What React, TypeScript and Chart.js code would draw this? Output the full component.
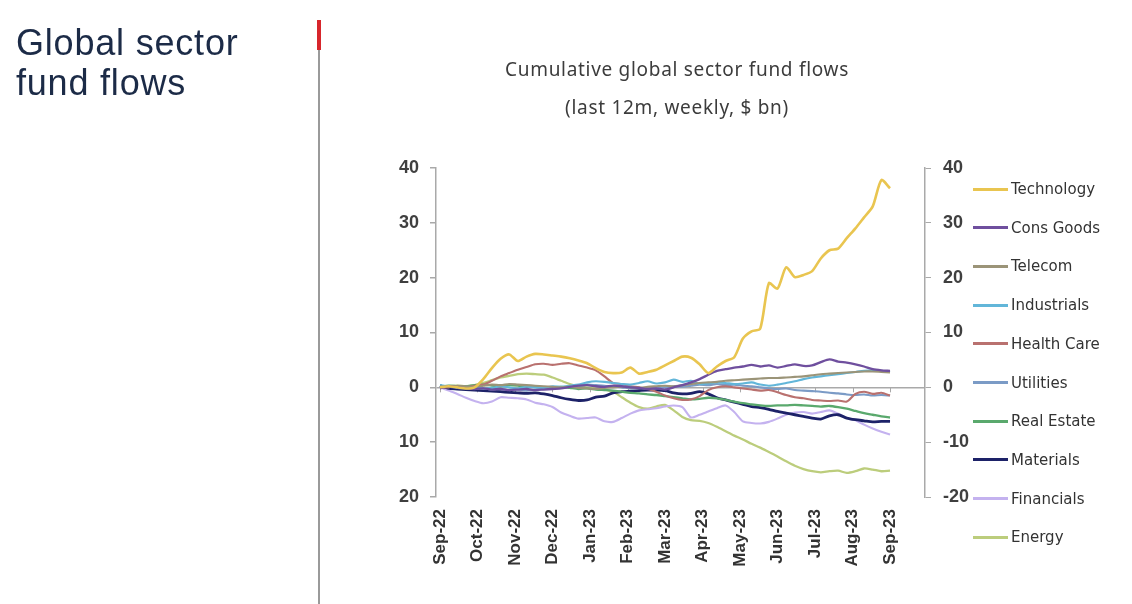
import React, { useEffect, useRef } from "react";
import { Chart, registerables } from "chart.js";

Chart.register(...registerables);

// ---------- DATA ----------
const monthLabels = [
  "Sep-22", "Oct-22", "Nov-22", "Dec-22", "Jan-23", "Feb-23", "Mar-23",
  "Apr-23", "May-23", "Jun-23", "Jul-23", "Aug-23", "Sep-23",
];
const weeksInYear = 52;
const yTicks = [40, 30, 20, 10, 0, -10, -20];

const seriesNames = [
  "Technology", "Cons Goods", "Telecom", "Industrials", "Health Care",
  "Utilities", "Real Estate", "Materials", "Financials", "Energy",
];
const seriesColors = [
  "#e9c550", "#6f4f9e", "#9b9478", "#62b6d9", "#b9716f",
  "#7b9bc6", "#5aa96d", "#1d2268", "#c4b2ef", "#bccd7c",
];
const seriesWidths = [2.6, 2.3, 2.1, 2.1, 2.1, 2.1, 2.3, 2.8, 2.1, 2.3];

const technology = [0, 0.2, 0, -0.2, 0, 1.5, 3.5, 5.2, 6.0, 4.8, 5.6, 6.1, 6.0, 5.8, 5.6, 5.3, 4.9, 4.4, 3.5, 2.8, 2.6, 2.7, 3.6, 2.5, 2.8, 3.2, 4.0, 4.8, 5.6, 5.4, 4.2, 2.6, 3.8, 4.8, 5.5, 8.9, 10.2, 10.7, 19.0, 18.0, 21.9, 20.1, 20.5, 21.2, 23.5, 25.0, 25.3, 27.2, 29.0, 31.0, 33.0, 37.8, 36.3];
const consGoods = [-0.2, 0.2, 0, -0.2, -0.3, -0.2, -0.4, -0.3, -0.5, -0.4, -0.3, -0.5, -0.4, -0.3, -0.2, 0.1, 0.3, 0.4, 0.2, 0.1, 0.3, 0.2, 0, -0.1, -0.3, -0.2, -0.4, 0, 0.4, 0.9, 1.5, 2.3, 3.0, 3.3, 3.6, 3.8, 4.1, 3.8, 4.0, 3.6, 3.9, 4.2, 3.9, 4.0, 4.6, 5.1, 4.7, 4.5, 4.2, 3.8, 3.3, 3.1, 3.0];
const telecom = [0.2, 0.1, 0.3, 0.2, 0.1, 0.3, 0.5, 0.4, 0.6, 0.5, 0.4, 0.3, 0.2, 0.1, 0, 0.1, -0.1, -0.2, -0.3, -0.1, 0, 0.1, 0, -0.1, 0.1, 0.2, 0.3, 0.2, 0.4, 0.6, 0.8, 0.9, 1.0, 1.2, 1.3, 1.4, 1.5, 1.6, 1.7, 1.7, 1.8, 1.9, 2.0, 2.2, 2.4, 2.5, 2.6, 2.7, 2.8, 2.9, 2.9, 2.8, 2.7];
const industrials = [0.4, 0.2, 0, 0.1, 0, -0.2, -0.1, 0.2, 0, -0.2, 0.1, 0, -0.1, 0.2, 0.1, 0.3, 0.5, 0.9, 1.1, 1.0, 0.8, 0.6, 0.5, 0.8, 1.1, 0.7, 0.9, 1.4, 1.0, 1.2, 0.6, 0.7, 0.9, 0.8, 0.6, 0.7, 0.9, 0.5, 0.3, 0.5, 0.8, 1.1, 1.5, 1.8, 2.0, 2.2, 2.4, 2.6, 2.8, 3.0, 3.1, 3.0, 2.8];
const healthCare = [0, 0, 0.2, 0, 0.3, 0.5, 1.2, 2.0, 2.6, 3.2, 3.7, 4.2, 4.3, 4.1, 4.3, 4.4, 4.0, 3.6, 3.1, 2.0, 0.8, 0.6, 0.2, 0, -0.3, -0.8, -1.5, -2.0, -2.3, -2.2, -1.6, -0.5, 0, 0.2, 0, -0.2, -0.4, -0.6, -0.5, -0.9, -1.4, -1.8, -2.0, -2.3, -2.4, -2.5, -2.4, -2.6, -1.2, -0.8, -1.2, -1.0, -1.5];
const utilities = [0.2, 0.1, -0.1, -0.2, -0.3, -0.2, -0.4, -0.3, -0.5, -0.4, -0.6, -0.4, -0.3, -0.2, -0.1, 0.1, 0.3, 0.5, 0.4, 0.3, 0.1, 0, -0.2, -0.1, -0.3, -0.2, 0, 0.2, 0.1, 0.3, 0.5, 0.4, 0.6, 0.4, 0.5, 0.3, 0.2, 0, -0.2, -0.3, -0.2, -0.5, -0.6, -0.7, -0.8, -1.0, -1.1, -1.3, -1.4, -1.3, -1.5, -1.4, -1.5];
const realEstate = [0, 0.3, 0.2, 0.2, 0.4, 0.5, 0.3, 0.2, 0.4, 0.3, 0.1, 0.2, 0, 0, 0.1, -0.1, -0.3, -0.2, -0.4, -0.5, -0.6, -0.8, -1.0, -1.1, -1.3, -1.4, -1.6, -1.8, -2.0, -2.2, -2.1, -1.9, -2.0, -2.3, -2.6, -2.9, -3.1, -3.3, -3.4, -3.3, -3.3, -3.2, -3.3, -3.4, -3.5, -3.4, -3.6, -3.9, -4.3, -4.7, -5.0, -5.3, -5.5];
const materials = [0.3, -0.2, -0.3, -0.4, -0.5, -0.6, -0.7, -0.8, -0.9, -1.0, -1.1, -1.0, -1.2, -1.5, -1.9, -2.2, -2.4, -2.3, -1.8, -1.6, -1.0, -0.8, -0.7, -0.6, -0.5, -0.5, -0.6, -1.0, -1.2, -1.1, -0.8, -1.2, -1.9, -2.3, -2.7, -3.1, -3.5, -3.7, -4.0, -4.4, -4.7, -5.0, -5.3, -5.6, -5.8, -5.2, -5.0, -5.6, -5.9, -6.1, -6.3, -6.2, -6.2];
const financials = [0, -0.6, -1.2, -1.9, -2.5, -2.9, -2.6, -1.8, -1.9, -2.0, -2.2, -2.8, -3.1, -3.6, -4.6, -5.2, -5.7, -5.6, -5.5, -6.2, -6.3, -5.6, -4.8, -4.2, -4.0, -3.8, -3.5, -3.3, -3.6, -5.5, -5.0, -4.4, -3.8, -3.3, -4.5, -6.2, -6.5, -6.6, -6.3, -5.7, -5.0, -4.6, -4.5, -4.8, -4.5, -4.2, -4.8, -5.6, -6.0, -6.8, -7.5, -8.1, -8.6];
const energy = [0, 0.2, 0.3, 0.2, 0.4, 0.8, 1.3, 1.8, 2.1, 2.4, 2.5, 2.4, 2.3, 1.8, 1.2, 0.6, 0.2, 0, -0.2, -0.4, -0.8, -1.8, -2.8, -3.6, -3.9, -3.5, -3.2, -4.2, -5.4, -6.0, -6.1, -6.5, -7.2, -8.0, -8.8, -9.5, -10.3, -11.0, -11.8, -12.6, -13.5, -14.3, -14.9, -15.3, -15.5, -15.3, -15.2, -15.6, -15.3, -14.8, -15.0, -15.3, -15.2];

const seriesValues = [
  technology, consGoods, telecom, industrials, healthCare,
  utilities, realEstate, materials, financials, energy,
];

// ---------- COMPONENT ----------
const W = 1132;
const H = 604;

const zeroTickPlugin = {
  id: "zeroTicks",
  beforeDatasetsDraw(chart: any) {
    const xs = chart.scales.x;
    const ys = chart.scales.y;
    const ctx = chart.ctx;
    const y0 = ys.getPixelForValue(0);
    ctx.save();
    ctx.strokeStyle = "#a9a9a9";
    ctx.lineWidth = 1;
    ctx.beginPath();
    xs.ticks.forEach((t: any) => {
      const px = Math.round(xs.getPixelForValue(t.value)) + 0.5;
      ctx.moveTo(px, y0);
      ctx.lineTo(px, y0 + 5);
    });
    ctx.stroke();
    ctx.restore();
  },
};

export default function App() {
  const canvasRef = useRef<HTMLCanvasElement | null>(null);

  useEffect(() => {
    const canvas = canvasRef.current;
    if (!canvas) return;
    const monthStep = weeksInYear / (monthLabels.length - 1);
    const tickFont = { family: "'Liberation Sans', Arial, sans-serif", size: 18, weight: "bold" as const };

    const chart = new Chart(canvas, {
      type: "line",
      data: {
        datasets: seriesNames.map((name, k) => ({
          label: name,
          data: seriesValues[k].map((v, i) => ({ x: i, y: v })),
          borderColor: seriesColors[k],
          backgroundColor: seriesColors[k],
          borderWidth: seriesWidths[k],
          pointRadius: 0,
          tension: 0.25,
          fill: false,
          yAxisID: "y",
        })),
      },
      options: {
        responsive: false,
        animation: false,
        events: [],
        layout: { padding: { left: 0, right: 0, top: 168, bottom: 0 } },
        plugins: {
          legend: { display: false },
          title: { display: false },
          tooltip: { enabled: false },
        },
        scales: {
          x: {
            type: "linear",
            position: "bottom",
            min: -0.46,
            max: 56.04,
            afterBuildTicks: (scale: any) => {
              scale.ticks = monthLabels.map((_, i) => ({ value: i * monthStep }));
            },
            afterFit: (scale: any) => {
              scale.height = 107;
            },
            ticks: {
              autoSkip: false,
              minRotation: 90,
              maxRotation: 90,
              padding: 12,
              color: "#333333",
              font: { family: "'Liberation Sans', Arial, sans-serif", size: 17, weight: "bold" },
              callback: (_v: any, idx: number) => monthLabels[idx],
            },
            grid: { display: false, drawTicks: false },
            border: { display: false },
          },
          y: {
            type: "linear",
            position: "left",
            min: -20,
            max: 40,
            afterBuildTicks: (scale: any) => {
              scale.ticks = yTicks.slice().reverse().map((v) => ({ value: v }));
            },
            afterFit: (scale: any) => {
              scale.width = 436;
            },
            ticks: {
              padding: 11,
              color: "#3f3f3f",
              font: tickFont,
              callback: (v: any) => String(Math.abs(Number(v))),
            },
            grid: {
              drawTicks: true,
              tickLength: 6,
              tickColor: "#a9a9a9",
              lineWidth: 1.5,
              color: (c: any) => (c.tick && c.tick.value === 0 ? "#a9a9a9" : "rgba(0,0,0,0)"),
            },
            border: { display: true, color: "#a9a9a9", width: 1.5 },
          },
          y2: {
            type: "linear",
            position: "right",
            min: -20,
            max: 40,
            afterBuildTicks: (scale: any) => {
              scale.ticks = yTicks.slice().reverse().map((v) => ({ value: v }));
            },
            afterFit: (scale: any) => {
              scale.width = W - 925;
            },
            ticks: {
              padding: 12,
              color: "#3f3f3f",
              font: tickFont,
              callback: (v: any) => String(v),
            },
            grid: {
              drawOnChartArea: false,
              drawTicks: true,
              tickLength: 6,
              tickColor: "#a9a9a9",
            },
            border: { display: true, color: "#a9a9a9", width: 1.5 },
          },
        },
      },
      plugins: [zeroTickPlugin],
    });
    return () => chart.destroy();
  }, []);

  const legendTop = 189;
  const legendStep = 38.7;

  return (
    <div style={{ position: "absolute", left: 0, top: 0, width: W, height: H, background: "#ffffff", overflow: "hidden" }}>
      <canvas ref={canvasRef} width={W} height={H} style={{ position: "absolute", left: 0, top: 0, width: W, height: H }} />
      <div
        style={{
          position: "absolute",
          left: 16,
          top: 23,
          fontFamily: "'Liberation Sans', Arial, sans-serif",
          fontSize: 36,
          lineHeight: "40px",
          letterSpacing: 0.8,
          color: "#1c2b47",
          whiteSpace: "nowrap",
        }}
      >
        Global sector
        <br />
        fund flows
      </div>
      <div style={{ position: "absolute", left: 318, top: 50, width: 2, height: H - 50, background: "#9a9a9a" }} />
      <div style={{ position: "absolute", left: 317, top: 20, width: 4, height: 30, background: "#d7262c" }} />
      <div
        style={{
          position: "absolute",
          left: 477,
          width: 400,
          top: 50,
          textAlign: "center",
          fontFamily: "'Noto Sans', 'Open Sans', sans-serif",
          fontSize: 19,
          letterSpacing: 0.7,
          lineHeight: "38px",
          color: "#3c3c3c",
          whiteSpace: "nowrap",
        }}
      >
        <div>Cumulative global sector fund flows</div>
        <div>(last 12m, weekly, $ bn)</div>
      </div>
      {seriesNames.map((name, k) => (
        <div
          key={name}
          style={{
            position: "absolute",
            left: 973,
            top: legendTop + k * legendStep - 11,
            height: 22,
            display: "flex",
            alignItems: "center",
            whiteSpace: "nowrap",
          }}
        >
          <div style={{ width: 35, height: 3, background: seriesColors[k] }} />
          <div
            style={{
              marginLeft: 3,
              fontFamily: "'DejaVu Sans', sans-serif",
              fontSize: 15,
              color: "#333333",
            }}
          >
            {name}
          </div>
        </div>
      ))}
    </div>
  );
}
